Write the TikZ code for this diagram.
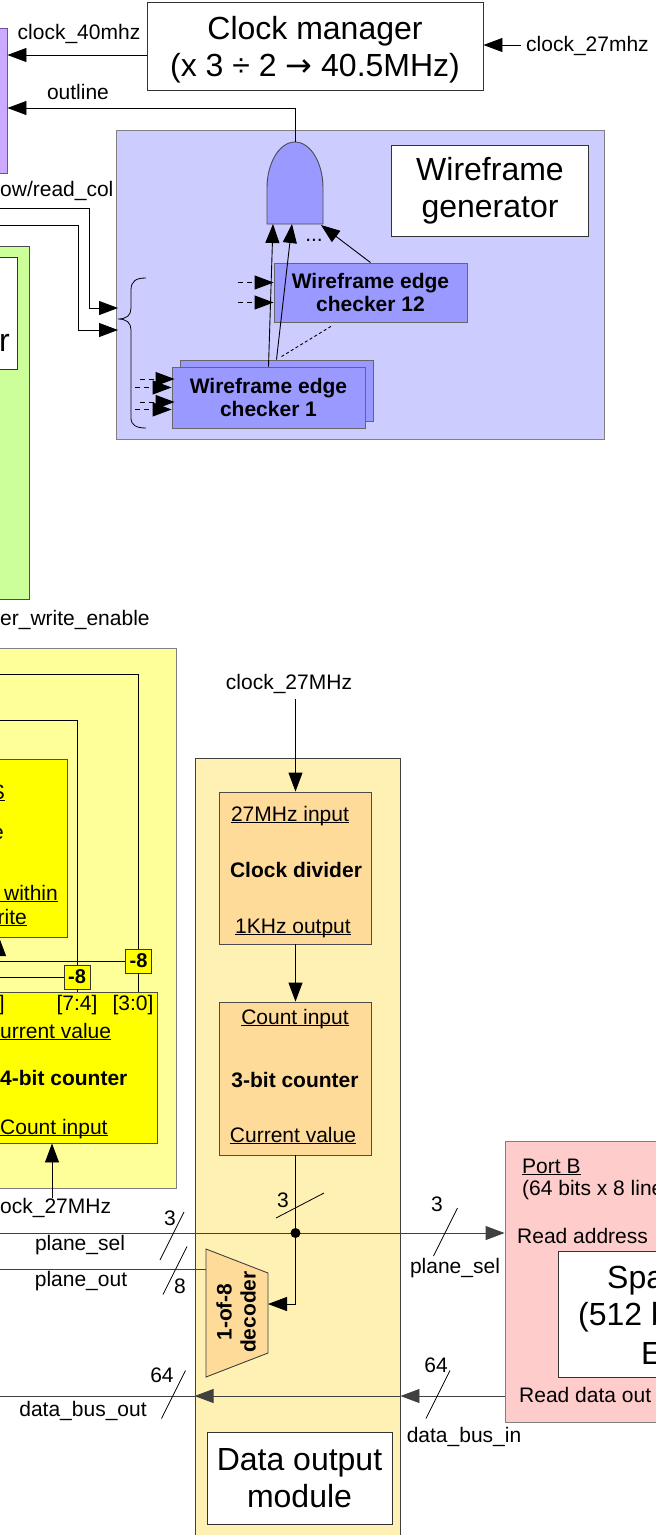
\documentclass[tikz,border=0pt]{standalone}
\usepackage{fontspec}
\setmainfont{Liberation Sans}
\newfontfamily\simbolos{DejaVu Sans}
\usepackage{tikz}
\usetikzlibrary{arrows.meta,positioning,calc}
\newcommand{\sublinhado}[1]{\underline{\smash{#1}}}
\definecolor{lilas}{HTML}{CCCCFF}
\definecolor{lilasForte}{HTML}{9999FF}
\definecolor{roxoClaro}{HTML}{CCAAFF}
\definecolor{roxoBorda}{HTML}{6E4FB0}
\definecolor{verdeClaro}{HTML}{CCFF99}
\definecolor{amareloClaro}{HTML}{FFFF99}
\definecolor{amareloForte}{HTML}{FFFF00}
\definecolor{creme}{HTML}{FFF0B3}
\definecolor{laranjaClaro}{HTML}{FFDB99}
\definecolor{rosaClaro}{HTML}{FFCCCC}
\tikzset{
    bloco/.style={
        rectangle,
        draw=black!80,
        line width=0.9pt,
        inner sep=0pt,
        align=center
    },
    caixaBranca/.style={bloco, fill=white, font=\fontsize{32}{37}\selectfont},
    regiao/.style={bloco, draw=black!50},
    verificador/.style={bloco, fill=lilasForte, draw=black!60, font=\fontsize{21}{23}\selectfont\bfseries},
    unidade/.style={bloco, fill=laranjaClaro, draw=black!70},
    contadorAmarelo/.style={bloco, fill=amareloForte, draw=black!70},
    subtrator/.style={bloco, fill=amareloForte, font=\fontsize{20}{22}\selectfont\bfseries},
    rotulo/.style={inner sep=0pt, font=\fontsize{21}{24}\selectfont},
    rotuloNegrito/.style={rotulo, font=\fontsize{21}{24}\selectfont\bfseries},
    rotuloGrande/.style={inner sep=0pt, align=center, font=\fontsize{32}{37}\selectfont},
    fluxo/.style={-{Triangle[length=19pt,width=14pt]}, line width=0.9pt},
    fio/.style={line width=0.9pt},
    fioTracejado/.style={fluxo, dash pattern=on 5pt off 4pt},
    barra/.style={line width=0.8pt}
}

\begin{document}
\begin{tikzpicture}[x=1pt, y=-1pt]
    \useasboundingbox (0,0) rectangle (656,1535);
    \clip (0,0) rectangle (656,1535);
    \fill[white] (0,0) rectangle (656,1535);

    \node[regiao, fill=roxoClaro, draw=roxoBorda, minimum width=22pt, minimum height=145pt] (caixaRoxa) at (-4,100.5) {};
    \node[caixaBranca, minimum width=336pt, minimum height=88pt] (gerClock) at (315,46) {};
    \node[rotuloGrande] (lblClock) at (315,50) {Clock manager\\(x 3 ÷ 2 {\simbolos →} 40.5MHz)};
    \node[regiao, fill=lilas, minimum width=488pt, minimum height=309pt] (gerWire) at (360,284.5) {};
    \node[caixaBranca, minimum width=197pt, minimum height=91pt] (tituloWire) at (490,190.5) {Wireframe\\generator};
    \node[verificador, minimum width=193pt, minimum height=59pt] (verif12) at (370.5,292.5) {Wireframe edge\\checker 12};
    \node[verificador, minimum width=193pt, minimum height=61pt] (verif1b) at (276.5,390.5) {};
    \node[verificador, minimum width=193pt, minimum height=61pt] (verif1) at (268.5,397.5) {Wireframe edge\\checker 1};

    \draw[fill=lilasForte, draw=black!70, line width=0.9pt] (267,224) -- (267,188) arc[start angle=180, end angle=0, x radius=28pt, y radius=46pt] -- (323,224) -- cycle;
    \coordinate (portaSaida) at (295,142);
    \coordinate (portaE1) at (273,224);
    \coordinate (portaE2) at (292,224);
    \coordinate (portaE3) at (321,225);

    \coordinate (c40) at ([yshift=-9pt]gerClock.west);
    \draw[fluxo] (c40) -- (c40 -| caixaRoxa.east);
    \node[rotulo] (lblClk40) at (79,34) {clock\_40mhz};
    \coordinate (c27) at (521,45);
    \draw[fluxo] (c27) -- (c27 -| gerClock.east);
    \node[rotulo, anchor=west] (lblClk27) at (526,46) {clock\_27mhz};
    \coordinate (cOut) at (0,108);
    \draw[fluxo] (portaSaida) |- (cOut -| caixaRoxa.east);
    \node[rotulo] (lblOutline) at (78,92) {outline};

    \draw[fluxo] (verif12.north) -- (portaE3);
    \draw[fluxo] (verif1.north) -- (portaE1);
    \draw[fluxo] (verif1b.north) -- (portaE2);
    \node[rotulo] (reticencias) at (314,240) {...};
    \draw[line width=0.9pt, dash pattern=on 3pt off 2.5pt] ([xshift=5pt, yshift=3pt]verif1b.north) -- ([xshift=-38pt, yshift=-3pt]verif12.south);
    \foreach \d in {10,-10}
        \draw[fioTracejado] ([xshift=-36pt, yshift=\d pt]verif12.west) -- ([yshift=\d pt]verif12.west);
    \foreach \d in {11.5,-11.5}
        \draw[fioTracejado] ([xshift=-40pt, yshift=\d pt]verif1b.west) -- ([xshift=-5pt, yshift=\d pt]verif1b.west);
    \foreach \d in {10,-12}
        \draw[fioTracejado] ([xshift=-37pt, yshift=\d pt]verif1.west) -- ([yshift=\d pt]verif1.west);

    \coordinate (chave) at (118,319);
    \draw[line width=0.8pt] (146,278) .. controls (136,278) and (131,281) .. (131,290) -- (131,308) .. controls (131,315) and (127,319) .. (chave) .. controls (127,319) and (131,323) .. (131,330) -- (131,418) .. controls (131,425) and (136,428) .. (146,428);
    \coordinate (entLinha) at (-5,208);
    \coordinate (entColuna) at (-5,225);
    \draw[fluxo] (entLinha) -| ([xshift=-29pt, yshift=11pt]chave) -- ([yshift=11pt]chave);
    \draw[fluxo] (entColuna) -| ([xshift=-40pt, yshift=-11pt]chave) -- ([yshift=-11pt]chave);
    \node[rotulo, anchor=west] (lblLeitura) at (0,191) {ow/read\_col};

    \node[regiao, fill=verdeClaro, draw=black!70, minimum width=39pt, minimum height=353pt] (caixaVerde) at (9.5,422.5) {};
    \node[caixaBranca, minimum width=27pt, minimum height=112pt] (verdeInterno) at (3.5,313) {};
    \node[rotuloGrande, anchor=east] (lblR) at (10,343) {r};
    \node[rotulo, anchor=west] (lblWrite) at (0,620) {er\_write\_enable};

    \node[regiao, fill=amareloClaro, minimum width=186pt, minimum height=540pt] (regiaoAmarela) at (83,918) {};
    \node[contadorAmarelo, minimum width=77pt, minimum height=178pt] (caixaAmarela) at (28.5,848) {};
    \node[contadorAmarelo, minimum width=167pt, minimum height=151pt] (contador4) at (73.5,1067.5) {};
    \node[subtrator, minimum width=26pt, minimum height=24pt] (menos1) at (138.5,961) {-8};
    \node[subtrator, minimum width=26pt, minimum height=24pt] (menos2) at (77,977) {-8};

    \node[rotulo, anchor=east] (lblS) at (5,800) {\sublinhado{S}};
    \node[rotulo, anchor=east] (lblE) at (4,834) {e};
    \node[rotulo, anchor=east] (lblWithin) at (58,901) {\sublinhado{ within}};
    \node[rotulo, anchor=east] (lblRite) at (27,925) {\sublinhado{rite}};

    \coordinate (fioA) at (-5,674);
    \coordinate (fioB) at (-5,720);
    \coordinate (bordaEsq) at (-5,0);
    \coordinate (setaAmarela) at (-1,937);
    \draw[fio] (menos1.north) |- (fioA);
    \draw[fio] (menos2.north) |- (fioB);
    \draw[fio] (menos1.south) -- (menos1.south |- contador4.north);
    \draw[fio] (menos2.south) -- (menos2.south |- contador4.north);
    \draw[fio] (menos2.west) -- (menos2.west -| bordaEsq);
    \draw[fluxo] (menos1.west) -| (setaAmarela);

    \node[rotulo] (lbl74) at (77,1005) {[7:4]};
    \node[rotulo] (lbl30) at (133,1005) {[3:0]};
    \node[rotulo, anchor=east] (lbl118) at (5,1005) {]};
    \node[rotulo, anchor=west] (lblValor4) at (0,1039) {\sublinhado{urrent value}};
    \node[rotuloNegrito, anchor=west] (lblCont4) at (0,1078) {4-bit counter};
    \node[rotulo, anchor=west] (lblEnt4) at (0,1135) {\sublinhado{Count input}};
    \coordinate (clkB) at (52,1198);
    \draw[fluxo] (clkB) -- (clkB |- contador4.south);
    \node[rotulo, anchor=west] (lblClkB) at (0,1208) {ock\_27MHz};

    \node[regiao, fill=creme, draw=black!75, minimum width=205pt, minimum height=790pt] (modulo) at (297.5,1153) {};
    \node[unidade, minimum width=152pt, minimum height=152pt] (divisor) at (295.5,868) {};
    \node[rotulo] (lblEntDiv) at (290,822) {\sublinhado{27MHz input}};
    \node[rotuloNegrito] (lblDiv) at (296,870) {Clock divider};
    \node[rotulo] (lblSaiDiv) at (293,934) {\sublinhado{1KHz output}};
    \node[unidade, minimum width=152pt, minimum height=153pt] (contador3) at (295.5,1078.5) {};
    \node[rotulo] (lblEnt3) at (295,1025) {\sublinhado{Count input}};
    \node[rotuloNegrito] (lblCont3) at (295,1080) {3-bit counter};
    \node[rotulo] (lblValor3) at (293,1143) {\sublinhado{Current value}};

    \node[rotulo] (lblClkA) at (289,684) {clock\_27MHz};
    \coordinate (clkA) at (295.5,699);
    \draw[fluxo] (clkA) -- (divisor.north);
    \draw[fluxo] (divisor.south) -- (contador3.north);

    \node[regiao, fill=rosaClaro, minimum width=170pt, minimum height=281pt] (portaB) at (590,1281.5) {};
    \node[caixaBranca, minimum width=120pt, minimum height=126pt] (espaco) at (618,1314) {};
    \node[rotulo, anchor=west] (lblPortaB) at (522,1174) {\sublinhado{Port B}};
    \node[rotulo, anchor=west] (lblLinhas) at (522,1190) {(64 bits x 8 line};
    \node[rotulo, anchor=west] (lblEnd) at (517,1236) {Read address};
    \node[rotulo, anchor=west] (lblDados) at (519,1395) {Read data out};
    \node[rotuloGrande, anchor=west] (lblSpa) at (607,1281) {Spa};
    \node[rotuloGrande, anchor=west] (lbl512) at (578,1317) {(512 b};
    \node[rotuloGrande, anchor=west] (lblB) at (641,1353) {E};

    \draw[fill=laranjaClaro, draw=black!75, line width=0.9pt] (206,1249) -- (268,1273) -- (268,1353) -- (206,1377) -- cycle;
    \node[rotuloNegrito, rotate=90, align=center] (decodificador) at (236,1312) {1-of-8\\decoder};
    \coordinate (entDecod) at (268,1304);
    \coordinate (saidaDecod) at (206,1269);

    \coordinate (selEsq) at (-5,1233);
    \coordinate (outEsq) at (-5,1269);
    \coordinate (dadosEsq) at (-5,1396);
    \draw[fluxo, black!75] (selEsq) -- (selEsq -| portaB.west);
    \draw[fio, black!75] (outEsq) -- (saidaDecod);
    \draw[fluxo, black!75] (portaB.west |- dadosEsq) -- (dadosEsq -| modulo.east);
    \draw[fluxo, black!75] (dadosEsq -| modulo.east) -- (dadosEsq -| modulo.west);
    \draw[fio, black!75] (dadosEsq -| modulo.west) -- (dadosEsq);

    \node[circle, fill=black, inner sep=0pt, minimum size=10pt] (juncao) at (295.5,1233) {};
    \draw[fio] (contador3.south) -- (juncao);
    \draw[fluxo] (juncao) |- (entDecod);

    \foreach \x/\y in {172/1236, 175/1270.5, 173.5/1394.5, 445.5/1232, 438/1394.5}
        \draw[barra] (\x-12,\y+24) -- (\x+12,\y-24);
    \draw[barra] (276,1218) -- (324,1193);
    \node[rotulo] (lblTres) at (283,1200) {3};
    \node[rotulo] (lblSelA) at (170,1218) {3};
    \node[rotulo] (lblOito) at (180,1286) {8};
    \node[rotulo] (lbl64a) at (162,1375) {64};
    \node[rotulo] (lblPlaneSelA) at (80,1245) {plane\_sel};
    \node[rotulo] (lblPlaneOut) at (81,1281) {plane\_out};
    \node[rotulo] (lblBusOut) at (83,1411) {data\_bus\_out};
    \node[rotulo] (lblSelB) at (437,1204) {3};
    \node[rotulo] (lblPlaneSelB) at (455,1268) {plane\_sel};
    \node[rotulo] (lbl64b) at (436,1365) {64};
    \node[rotulo] (lblBusIn) at (464,1437) {data\_bus\_in};

    \node[caixaBranca, minimum width=185pt, minimum height=92pt] (caixaSaida) at (299.5,1478) {Data output\\module};
\end{tikzpicture}
\end{document}
